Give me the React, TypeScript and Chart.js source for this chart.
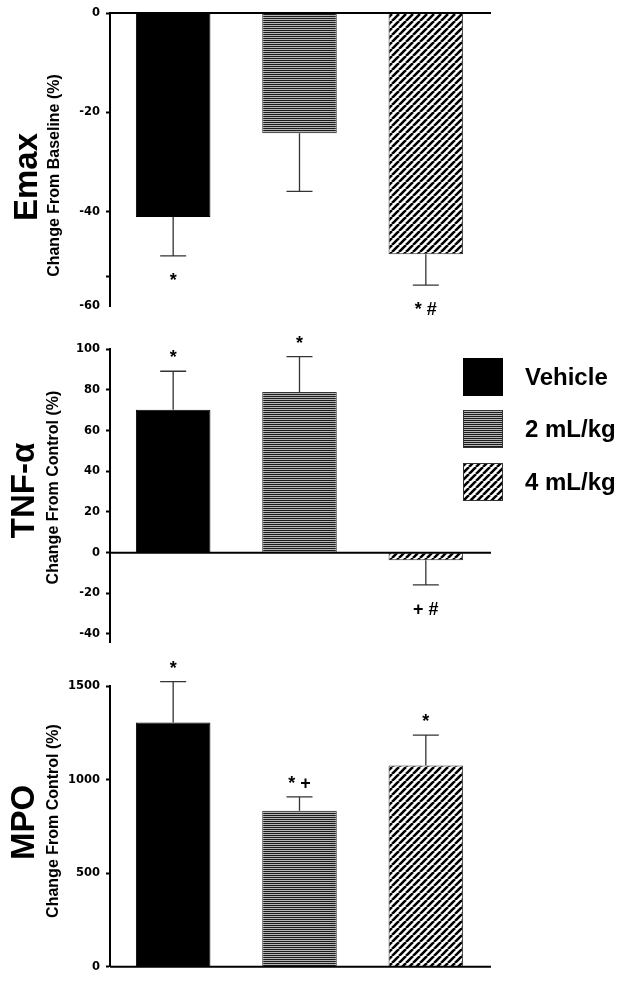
import React, { useEffect, useRef } from 'react';
import { Chart, registerables } from 'chart.js';

Chart.register(...registerables);

// ---------- data ----------
const categories = ['Vehicle', '2 mL/kg', '4 mL/kg'];

const emaxValues = [-41.1, -24.2, -48.6];
const emaxErrors = [7.8, 11.7, 6.2];
const emaxMarks = ['*', '', '* #'];
const emaxTicks = [0, -20, -40, -53, -59];
const emaxTickLabels = ['0', '-20', '-40', '', '-60'];

const tnfValues = [70.3, 79.0, -3.7];
const tnfErrors = [18.9, 17.4, 12.2];
const tnfMarks = ['*', '*', '+ #'];
const tnfTicks = [100, 80, 60, 40, 20, 0, -20, -40];
const tnfTickLabels = ['100', '80', '60', '40', '20', '0', '-20', '-40'];

const mpoValues = [1305, 833, 1075];
const mpoErrors = [218, 74, 162];
const mpoMarks = ['*', '* +', '*'];
const mpoTicks = [0, 500, 1000, 1500];
const mpoTickLabels = ['0', '500', '1000', '1500'];

// ---------- patterns ----------
function makeHorizontal(): CanvasPattern | string {
  const c = document.createElement('canvas');
  c.width = 4;
  c.height = 2;
  const g = c.getContext('2d');
  if (!g) return '#888';
  g.fillStyle = '#b4b4b4';
  g.fillRect(0, 0, 4, 2);
  g.fillStyle = '#1c1c1c';
  g.fillRect(0, 0, 4, 1);
  return g.createPattern(c, 'repeat') || '#888';
}

function makeDiagonal(): CanvasPattern | string {
  const s = 7;
  const c = document.createElement('canvas');
  c.width = s;
  c.height = s;
  const g = c.getContext('2d');
  if (!g) return '#777';
  g.fillStyle = '#fff';
  g.fillRect(0, 0, s, s);
  g.strokeStyle = '#000';
  g.lineWidth = 2.6;
  g.beginPath();
  for (const o of [-s, 0, s]) {
    g.moveTo(o, s);
    g.lineTo(o + s, 0);
  }
  g.stroke();
  return g.createPattern(c, 'repeat') || '#777';
}

type PanelCfg = {
  key: string;
  title: string;
  subtitle: string;
  values: number[];
  errors: number[];
  marks: string[];
  ticks: number[];
  tickLabels: string[];
  hiddenTicks: number[];
  min: number;
  max: number;
  top: number;
  height: number;
  padTop: number;
  padBottom: number;
  bigX: number;
  bigY: number;
  smallX: number;
  smallY: number;
  legend: boolean;
};

const panels: PanelCfg[] = [
  {
    key: 'emax', title: 'Emax', subtitle: 'Change From Baseline (%)',
    values: emaxValues, errors: emaxErrors, marks: emaxMarks,
    ticks: emaxTicks, tickLabels: emaxTickLabels, hiddenTicks: [-59],
    min: -59, max: 0, top: 0, height: 320, padTop: 13, padBottom: 14,
    bigX: 37, bigY: 177, smallX: 58.5, smallY: 175.5, legend: false,
  },
  {
    key: 'tnf', title: 'TNF-\u03B1', subtitle: 'Change From Control (%)',
    values: tnfValues, errors: tnfErrors, marks: tnfMarks,
    ticks: tnfTicks, tickLabels: tnfTickLabels, hiddenTicks: [],
    min: -44, max: 100, top: 320, height: 335, padTop: 29.3, padBottom: 7.6,
    bigX: 33.5, bigY: 170.5, smallX: 58, smallY: 167.5, legend: true,
  },
  {
    key: 'mpo', title: 'MPO', subtitle: 'Change From Control (%)',
    values: mpoValues, errors: mpoErrors, marks: mpoMarks,
    ticks: mpoTicks, tickLabels: mpoTickLabels, hiddenTicks: [],
    min: 0, max: 1500, top: 655, height: 326, padTop: 31, padBottom: 14.3,
    bigX: 33.5, bigY: 167.5, smallX: 58, smallY: 166, legend: false,
  },
];

const SANS = '"Liberation Sans", Arial, sans-serif';

function Panel({ cfg }: { cfg: PanelCfg }) {
  const ref = useRef<HTMLCanvasElement | null>(null);

  useEffect(() => {
    const canvas = ref.current;
    if (!canvas) return;
    const fills = ['#000000', makeHorizontal(), makeDiagonal()];

    const overlay = {
      id: 'overlay-' + cfg.key,
      afterDraw(chart: any) {
        const ctx = chart.ctx as CanvasRenderingContext2D;
        const ys = chart.scales.y;
        const area = chart.chartArea;
        ctx.save();

        // zero line
        const y0 = ys.getPixelForValue(0);
        ctx.strokeStyle = '#000';
        ctx.lineWidth = 2;
        ctx.beginPath();
        ctx.moveTo(area.left, y0);
        ctx.lineTo(area.right + 2, y0);
        ctx.stroke();

        // error bars & significance marks
        const meta = chart.getDatasetMeta(0);
        meta.data.forEach((bar: any, i: number) => {
          const v = cfg.values[i];
          const e = cfg.errors[i];
          const sign = v >= 0 ? 1 : -1;
          const yBar = ys.getPixelForValue(v);
          const yEnd = ys.getPixelForValue(v + sign * e);
          ctx.strokeStyle = '#333';
          ctx.lineWidth = 1.3;
          ctx.beginPath();
          ctx.moveTo(bar.x, yBar);
          ctx.lineTo(bar.x, yEnd);
          ctx.moveTo(bar.x - 13, yEnd);
          ctx.lineTo(bar.x + 13, yEnd);
          ctx.stroke();
          const m = cfg.marks[i];
          if (m) {
            ctx.fillStyle = '#000';
            ctx.font = 'bold 18px ' + SANS;
            ctx.textAlign = 'center';
            ctx.textBaseline = 'alphabetic';
            const ty = sign > 0 ? yEnd - 8 : yEnd + 30;
            ctx.fillText(m, bar.x, ty);
          }
        });

        // titles (rotated)
        ctx.fillStyle = '#000';
        ctx.textAlign = 'center';
        ctx.textBaseline = 'alphabetic';
        ctx.save();
        ctx.translate(cfg.bigX, cfg.bigY);
        ctx.rotate(-Math.PI / 2);
        ctx.font = 'bold 33px ' + SANS;
        ctx.fillText(cfg.title, 0, 0);
        ctx.restore();
        ctx.save();
        ctx.translate(cfg.smallX, cfg.smallY);
        ctx.rotate(-Math.PI / 2);
        ctx.font = 'bold 16px ' + SANS;
        ctx.fillText(cfg.subtitle, 0, 0);
        ctx.restore();

        // legend
        if (cfg.legend) {
          const boxX = 463;
          const boxTops = [38, 90, 143];
          categories.forEach((name, i) => {
            const by = boxTops[i];
            ctx.fillStyle = fills[i] as any;
            ctx.fillRect(boxX, by, 40, 38);
            ctx.strokeStyle = i === 0 ? '#000' : '#333';
            ctx.lineWidth = 1;
            ctx.strokeRect(boxX + 0.5, by + 0.5, 39, 37);
            ctx.fillStyle = '#000';
            ctx.font = 'bold 24px ' + SANS;
            ctx.textAlign = 'left';
            ctx.textBaseline = 'middle';
            ctx.fillText(name, 525, by + 20);
          });
        }
        ctx.restore();
      },
    };

    const chart = new Chart(canvas, {
      type: 'bar',
      data: {
        labels: categories,
        datasets: [
          {
            label: cfg.title,
            data: cfg.values,
            backgroundColor: fills as any,
            borderColor: ['#000', '#333', '#333'],
            borderWidth: 1,
            barPercentage: 0.59,
            categoryPercentage: 1,
          },
        ],
      },
      options: {
        animation: false,
        responsive: false,
        devicePixelRatio: 1,
        events: [],
        layout: {
          padding: { left: 0, right: 135, top: cfg.padTop, bottom: cfg.padBottom },
        },
        plugins: {
          legend: { display: false },
          tooltip: { enabled: false },
          title: { display: false },
        },
        scales: {
          x: { type: 'category', display: false },
          y: {
            type: 'linear',
            min: cfg.min,
            max: cfg.max,
            afterFit: (scale: any) => {
              scale.width = 110;
            },
            afterBuildTicks: (scale: any) => {
              scale.ticks = cfg.ticks.map((v) => ({ value: v }));
            },
            ticks: {
              autoSkip: false,
              padding: 6,
              color: '#000',
              font: { family: '"DejaVu Sans"', size: 11.5, weight: 'bold' },
              callback: (_v: any, index: number) => cfg.tickLabels[index],
            },
            grid: {
              display: true,
              drawOnChartArea: false,
              drawTicks: true,
              tickLength: 4,
              tickWidth: 2,
              tickColor: (ctx: any) =>
                ctx.tick && cfg.hiddenTicks.includes(ctx.tick.value) ? 'rgba(0,0,0,0)' : '#000',
            },
            border: { display: true, color: '#000', width: 2 },
          },
        },
      } as any,
      plugins: [overlay],
    });
    return () => chart.destroy();
  }, [cfg]);

  return (
    <canvas
      ref={ref}
      width={624}
      height={cfg.height}
      style={{ position: 'absolute', left: 0, top: cfg.top, width: 624, height: cfg.height, display: 'block' }}
    />
  );
}

export default function App() {
  return (
    <div style={{ position: 'absolute', left: 0, top: 0, width: 624, height: 981, background: '#fff' }}>
      {panels.map((p) => (
        <Panel key={p.key} cfg={p} />
      ))}
    </div>
  );
}
